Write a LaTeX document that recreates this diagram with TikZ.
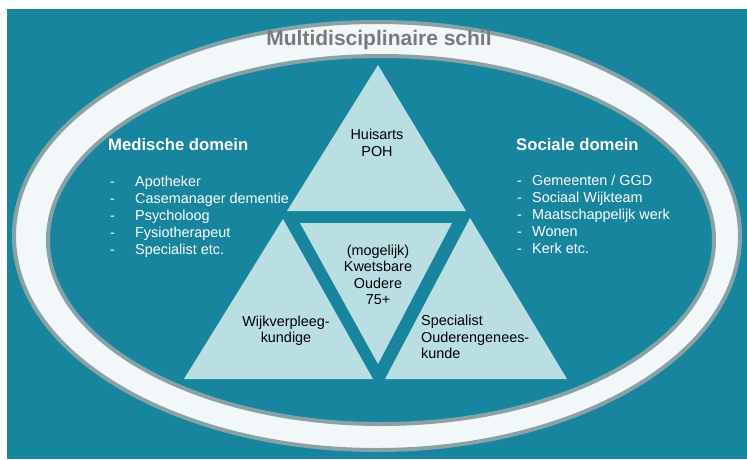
\documentclass[tikz,border=0pt]{standalone}
\usepackage{fontspec}
\setmainfont{Liberation Sans}
\definecolor{schilteal}{RGB}{23,133,158}
\definecolor{schilwit}{RGB}{242,247,250}
\definecolor{schilgrijs}{RGB}{136,163,165}
\definecolor{driehoek}{RGB}{185,223,227}
\definecolor{titelgrijs}{RGB}{122,122,122}

\begin{document}
\begin{tikzpicture}[x=1pt,y=-1pt,
    vlak/.style={fill=driehoek},
    rand/.style={draw=schilgrijs,line width=4pt},
    titel/.style={text=titelgrijs,font=\fontsize{21}{24}\selectfont\bfseries,inner sep=0pt},
    kop/.style={anchor=base west,text=white,font=\fontsize{16.7}{20}\selectfont\bfseries,inner sep=0pt},
    item/.style={anchor=base west,text=white,font=\fontsize{14.4}{17}\selectfont,inner sep=0pt},
    tekst/.style={font=\fontsize{14.4}{16.5}\selectfont,inner sep=0pt}]
        \useasboundingbox (0,0) rectangle (747,459);
        \fill[white] (0,0) rectangle (747,459);
        \fill[schilteal] (7,9) rectangle (747,459);
        \draw[rand,fill=schilwit] (377,236) ellipse [x radius=363, y radius=214];
        \draw[rand,fill=schilteal] (381,240) ellipse [x radius=333, y radius=184];
        \fill[vlak] (378,65) -- (287,211) -- (466,211) -- cycle;
        \fill[vlak] (283,219) -- (184,379) -- (373,379) -- cycle;
        \fill[vlak] (300,223) -- (452,223) -- (378,364) -- cycle;
        \fill[vlak] (470,218) -- (385,379) -- (567,379) -- cycle;
        \node[titel] (schil) at (379,40) {Multidisciplinaire schil};
        \node[kop] (medisch) at (108,150) {Medische domein};
        \node[kop] (sociaal) at (516,150) {Sociale domein};
        \foreach \txt [count=\i] in {Apotheker,Casemanager dementie,Psycholoog,Fysiotherapeut,Specialist etc.}
            \node[item] (med\i) at (110,169+17*\i) {\makebox[25pt][l]{-}\txt};
        \foreach \txt [count=\i] in {Gemeenten / GGD,Sociaal Wijkteam,Maatschappelijk werk,Wonen,Kerk etc.}
            \node[item] (soc\i) at (517,168+17*\i) {\makebox[15pt][l]{-}\txt};
        \node[tekst,align=center] (huisarts) at (377,143) {Huisarts\\POH};
        \node[tekst,align=center] (oudere) at (378,275) {(mogelijk)\\Kwetsbare\\Oudere\\75+};
        \node[tekst,align=center] (wijk) at (286,331) {Wijkverpleeg-\\kundige};
        \node[tekst,align=left,anchor=west] (specialist) at (421,337) {Specialist\\Ouderengenees-\\kunde};
    \end{tikzpicture}
\end{document}
